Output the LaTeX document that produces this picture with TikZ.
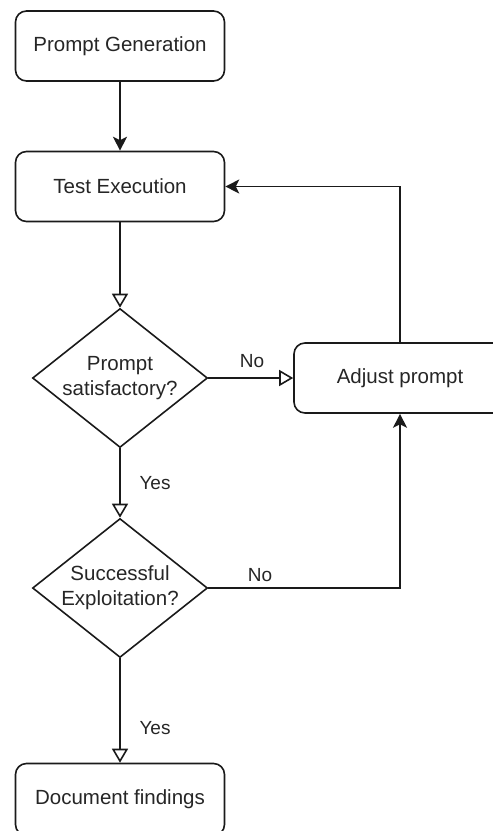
\documentclass[tikz,border=0pt]{standalone}
\usepackage{fontspec}
\setmainfont{Liberation Sans}
\usetikzlibrary{shapes.geometric,arrows.meta}
\definecolor{txt}{HTML}{262626}
\definecolor{ln}{HTML}{1A1A1A}
\begin{document}
\begin{tikzpicture}[x=1pt,y=-1pt,
  every node/.style={text=txt, font=\fontsize{20.5}{25}\selectfont},
  procbox/.style={draw=ln, line width=1.6pt, rounded corners=11pt, minimum width=209pt, minimum height=70pt, inner sep=0pt, fill=white},
  decbox/.style={draw=ln, line width=1.6pt, shape=diamond, shape aspect=1.26, minimum width=175pt, minimum height=139pt, inner sep=0pt, align=center},
  lbl/.style={font=\fontsize{19}{22}\selectfont},
  conn/.style={draw=ln, line width=1.6pt},
  solidtip/.style={-{Stealth[length=14pt,width=14pt,inset=3.5pt]}},
  opentip/.style={-{Triangle[open,length=14pt,width=16pt,fill=white]}}
]
\useasboundingbox (0,0) rectangle (493,831);
\node[procbox] (pg) at (120,46) {Prompt Generation};
\node[procbox] (te) at (120,186.5) {Test Execution};
\node[decbox] (d1) at (120,378) {Prompt\\satisfactory?};
\node[procbox, minimum width=212pt] (ap) at (400,378) {Adjust prompt};
\node[decbox] (d2) at (120,588) {Successful\\Exploitation?};
\node[procbox, minimum height=72pt] (df) at (120,799.5) {Document findings};
\coordinate (c1) at (400,186.5);
\coordinate (c2) at (400,588);

\draw[conn, solidtip] (pg) -- (te);
\draw[conn, opentip] (te) -- (d1);
\draw[conn, opentip] (d1) -- (ap);
\draw[conn, solidtip] (ap.north) -- (c1) -- (te.east);
\draw[conn, opentip] (d1) -- (d2);
\draw[conn, solidtip] (d2.east) -- (c2) -- (ap.south);
\draw[conn, opentip] (d2) -- (df);

\node[lbl] (no1) at (252,361) {No};
\node[lbl] (yes1) at (155,483) {Yes};
\node[lbl] (no2) at (260,575) {No};
\node[lbl] (yes2) at (155,728) {Yes};
\end{tikzpicture}
\end{document}
